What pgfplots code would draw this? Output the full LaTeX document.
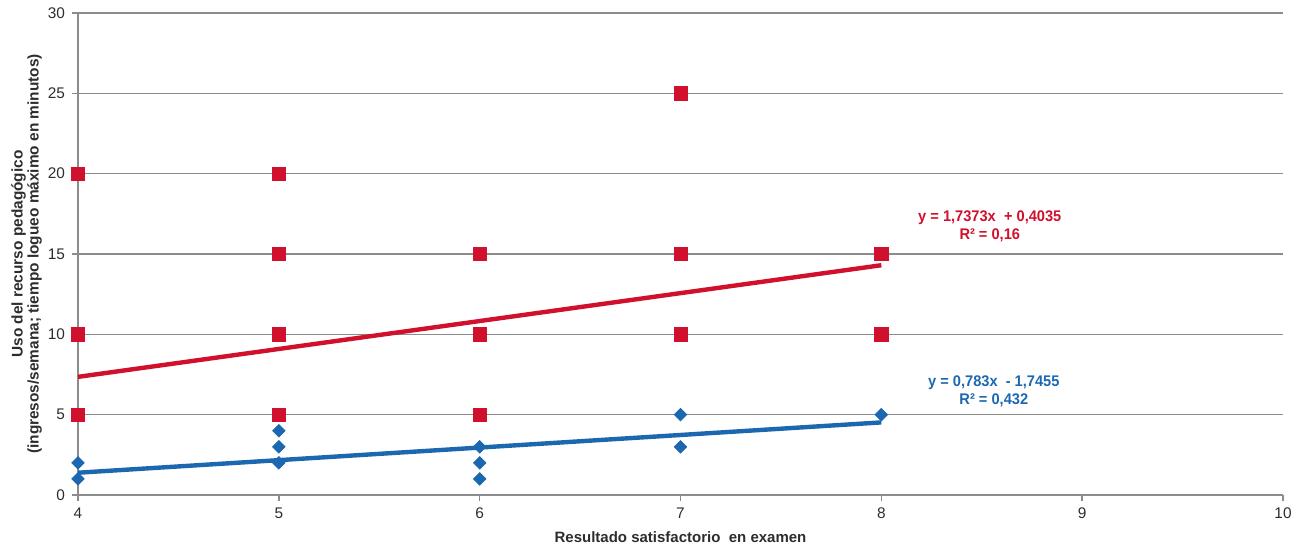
\documentclass[border=0pt]{standalone}
\usepackage{fontspec}
\setmainfont{Liberation Sans}
\newfontfamily\eqfont[FakeStretch=0.95]{Liberation Sans}
\usepackage{pgfplots}
\pgfplotsset{compat=1.18}
\definecolor{myred}{RGB}{208,16,44}
\definecolor{myblue}{RGB}{28,104,176}
\definecolor{gridgray}{RGB}{140,140,140}
\definecolor{txtgray}{RGB}{45,45,45}
\begin{document}
\begin{tikzpicture}
\useasboundingbox (-39pt,-25.5pt) rectangle (613pt,247.5pt);
\begin{axis}[
  scale only axis, width=602.5pt, height=241pt,
  xmin=4, xmax=10, ymin=0, ymax=30,
  xtick distance=1, ytick distance=5,
  axis lines*=left,
  ymajorgrids, grid style={gridgray, line width=0.75pt},
  axis line style={gridgray, line width=0.75pt},
  tick style={gridgray, line width=0.75pt},
  tick align=outside, major tick length=3pt,
  ticklabel style={font=\fontsize{7.7}{9}\selectfont, text=txtgray},
  /pgf/number format/assume math mode=true,
  xlabel={\bfseries Resultado satisfactorio\ \ en examen},
  xlabel style={at={(axis description cs:0.5,-0.087)}, anchor=center, font=\fontsize{7.5}{9}\selectfont, text=txtgray},
  ylabel={\bfseries Uso del recurso pedagógico\\\bfseries (ingresos/semana; tiempo logueo máximo en minutos)},
  ylabel style={at={(axis description cs:-0.0427,0.5)}, anchor=center, align=center, font=\fontsize{7.7}{8}\selectfont, text=txtgray},
  clip=false,
]
\addplot[only marks, mark=square*, mark size=3.3pt, color=myred] coordinates {
  (4,20) (4,10) (4,5)
  (5,20) (5,15) (5,10) (5,5)
  (6,15) (6,10) (6,5)
  (7,25) (7,15) (7,10)
  (8,15) (8,10)
};
\addplot[only marks, mark=square*, mark size=2.2pt, mark options={rotate=45}, color=myblue] coordinates {
  (4,2) (4,1)
  (5,4) (5,3) (5,2)
  (6,3) (6,2) (6,1)
  (7,5) (7,3)
  (8,5)
};
\addplot[myred, line width=2.2pt, no marks] coordinates {(4,7.3527) (8,14.3019)};
\addplot[myblue, line width=2.2pt, no marks] coordinates {(4,1.3865) (8,4.5185)};
\node[myred, align=center, font=\eqfont\bfseries\fontsize{7.7}{9}\selectfont] at (axis cs:8.54,16.7) {y = 1,7373x \ + 0,4035\\R² = 0,16};
\node[myblue, align=center, font=\eqfont\bfseries\fontsize{7.7}{9}\selectfont] at (axis cs:8.56,6.45) {y = 0,783x \ - 1,7455\\R² = 0,432};
\end{axis}
\end{tikzpicture}
\end{document}
